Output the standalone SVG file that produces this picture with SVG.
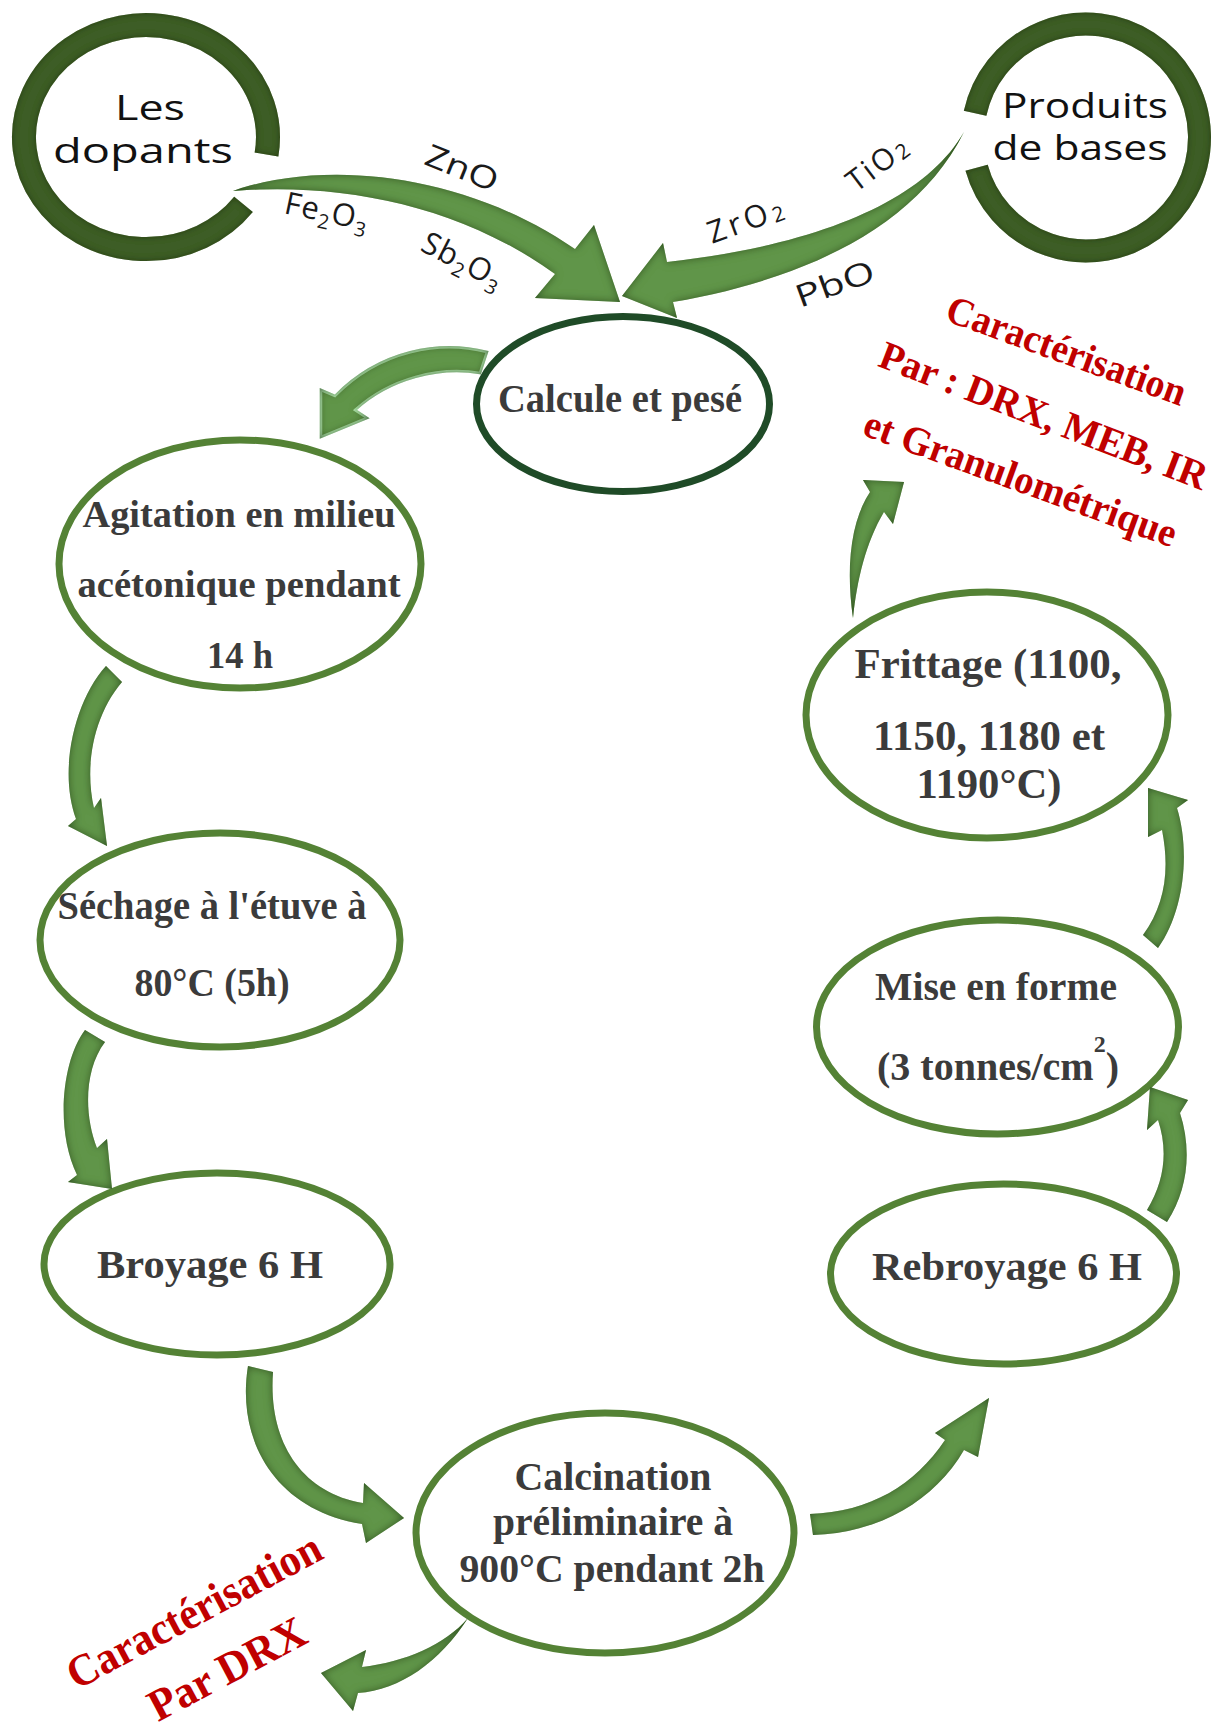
<svg xmlns="http://www.w3.org/2000/svg" width="1222" height="1729" viewBox="0 0 1222 1729">
<defs>
<style>
.ell{fill:#ffffff;stroke:#548235;stroke-width:7}
.ell-dark{fill:#ffffff;stroke:#1f4b27;stroke-width:7}
.ring{fill:none;stroke:#3c5d27;stroke-width:24}
.ring-t{font-family:"Open Sans","Noto Sans",sans-serif;fill:#111111;text-anchor:middle;font-size:34px}
.nt{font-family:"Liberation Serif","Times New Roman",serif;font-weight:bold;fill:#3b3b3b;text-anchor:middle}
.lbl{font-family:"Open Sans","Noto Sans",sans-serif;fill:#1a1a1a}
.arr{fill:#609548}
.arr-c{fill:#609548;stroke:#a6dba0;stroke-width:2.5}
.red{font-family:"Liberation Serif","Times New Roman",serif;font-weight:bold;fill:#c00000;text-anchor:middle}
</style>
<filter id="bevel" x="-10%" y="-10%" width="120%" height="120%">
<feGaussianBlur in="SourceAlpha" stdDeviation="4" result="blur"/>
<feComposite in="SourceAlpha" in2="blur" operator="out" result="rim"/>
<feFlood flood-color="#1d3a10" flood-opacity="0.9"/>
<feComposite in2="rim" operator="in" result="shade"/>
<feMerge><feMergeNode in="SourceGraphic"/><feMergeNode in="shade"/></feMerge>
</filter>
<filter id="ringbevel" x="-10%" y="-10%" width="120%" height="120%">
<feGaussianBlur in="SourceAlpha" stdDeviation="3" result="blur"/>
<feComposite in="SourceAlpha" in2="blur" operator="out" result="rim"/>
<feFlood flood-color="#15260b" flood-opacity="0.8"/>
<feComposite in2="rim" operator="in" result="shade"/>
<feMerge><feMergeNode in="SourceGraphic"/><feMergeNode in="shade"/></feMerge>
</filter>
</defs>
<rect width="1222" height="1729" fill="#ffffff"/>

<g id="node-dopants">
<path class="ring" filter="url(#ringbevel)" d="M 243.5,204.4 A 122 112 0 1 1 266.5,154.5"/>
<text class="ring-t" x="150" y="120" textLength="70" lengthAdjust="spacingAndGlyphs">Les</text>
<text class="ring-t" x="143" y="163" textLength="180" lengthAdjust="spacingAndGlyphs">dopants</text>
</g>

<g id="node-produits">
<path class="ring" style="stroke-width:23" filter="url(#ringbevel)" d="M 975.1,113.3 A 113.5 113.5 0 1 1 976.6,167.8"/>
<text class="ring-t" x="1085" y="118" textLength="166" lengthAdjust="spacingAndGlyphs">Produits</text>
<text class="ring-t" x="1080" y="160" textLength="175" lengthAdjust="spacingAndGlyphs">de bases</text>
</g>

<g id="node-calcule">
<ellipse class="ell-dark" cx="623" cy="404" rx="146.5" ry="87.5"/>
<text class="nt" x="620" y="412" font-size="39" textLength="244" lengthAdjust="spacingAndGlyphs">Calcule et pesé</text>
</g>

<g id="node-agitation">
<ellipse class="ell" cx="240" cy="564" rx="181" ry="124"/>
<text class="nt" x="239" y="527" font-size="37" textLength="313" lengthAdjust="spacingAndGlyphs">Agitation en milieu</text>
<text class="nt" x="239" y="597" font-size="37" textLength="323" lengthAdjust="spacingAndGlyphs">acétonique pendant</text>
<text class="nt" x="240" y="668" font-size="37" textLength="66" lengthAdjust="spacingAndGlyphs">14 h</text>
</g>

<g id="node-sechage">
<ellipse class="ell" cx="220" cy="940" rx="180" ry="107"/>
<text class="nt" x="212" y="919" font-size="39" textLength="309" lengthAdjust="spacingAndGlyphs">Séchage à l'étuve à</text>
<text class="nt" x="212" y="996" font-size="39" textLength="155" lengthAdjust="spacingAndGlyphs">80°C (5h)</text>
</g>

<g id="node-broyage">
<ellipse class="ell" cx="217" cy="1264" rx="173" ry="91"/>
<text class="nt" x="210" y="1278" font-size="40" textLength="226" lengthAdjust="spacingAndGlyphs">Broyage 6 H</text>
</g>

<g id="node-calcination">
<ellipse class="ell" cx="605" cy="1533" rx="189" ry="120"/>
<text class="nt" x="613" y="1490" font-size="40" textLength="197" lengthAdjust="spacingAndGlyphs">Calcination</text>
<text class="nt" x="613" y="1535" font-size="40" textLength="240" lengthAdjust="spacingAndGlyphs">préliminaire à</text>
<text class="nt" x="612" y="1582" font-size="40" textLength="305" lengthAdjust="spacingAndGlyphs">900°C pendant 2h</text>
</g>

<g id="node-rebroyage">
<ellipse class="ell" cx="1003.5" cy="1274" rx="173" ry="90"/>
<text class="nt" x="1007" y="1280" font-size="41" textLength="270" lengthAdjust="spacingAndGlyphs">Rebroyage 6 H</text>
</g>

<g id="node-mise">
<ellipse class="ell" cx="997.5" cy="1027" rx="181" ry="107"/>
<text class="nt" x="996" y="1000" font-size="40" textLength="242" lengthAdjust="spacingAndGlyphs">Mise en forme</text>
<text class="nt" x="877" y="1080" font-size="40" style="text-anchor:start">(3 tonnes/cm<tspan font-size="24" dy="-28">2</tspan><tspan dy="28">)</tspan></text>
</g>

<g id="node-frittage">
<ellipse class="ell" cx="987" cy="715" rx="181" ry="123"/>
<text class="nt" x="988" y="678" font-size="42" textLength="267" lengthAdjust="spacingAndGlyphs">Frittage (1100,</text>
<text class="nt" x="989" y="750" font-size="42" textLength="232" lengthAdjust="spacingAndGlyphs">1150, 1180 et</text>
<text class="nt" x="989" y="798" font-size="42" textLength="145" lengthAdjust="spacingAndGlyphs">1190°C)</text>
</g>

<g id="node-carac-final">
<text class="red" font-size="40" transform="translate(1062,363) rotate(20)" textLength="252" lengthAdjust="spacingAndGlyphs">Caractérisation</text>
<text class="red" font-size="40" transform="translate(1039,428) rotate(21)" textLength="348" lengthAdjust="spacingAndGlyphs">Par : DRX, MEB, IR</text>
<text class="red" font-size="40" transform="translate(1016,491) rotate(20)" textLength="330" lengthAdjust="spacingAndGlyphs">et Granulométrique</text>
</g>

<g id="node-carac-drx">
<text class="red" font-size="45" transform="translate(201,1624) rotate(-28)" textLength="282" lengthAdjust="spacingAndGlyphs">Caractérisation</text>
<text class="red" font-size="45" transform="translate(234,1682) rotate(-28)" textLength="172" lengthAdjust="spacingAndGlyphs">Par DRX</text>
</g>

<g id="connectors">
<path id="c-dopants-calcule" class="arr" filter="url(#bevel)" d="M 233,191 C 320,160 460,170 575,249 L 594,225 L 620,302 L 535,298 L 555,274 C 460,205 340,182 233,191 Z"/>
<path id="c-produits-calcule" class="arr" filter="url(#bevel)" d="M 964,132 C 925,200 820,245 667,262 L 663,243 L 622,296 L 677,318 L 673,302 C 800,280 915,230 964,132 Z"/>
<path id="c-calcule-agitation" class="arr-c" filter="url(#bevel)" d="M 487,352 C 440,340 380,350 335,396 L 321,390 L 321,437 L 367,418 L 355,410 C 390,378 440,366 480,373 Z"/>
<path id="c-agitation-sechage" class="arr" filter="url(#bevel)" d="M 106,666 C 75,700 58,770 76,819 L 68,826 L 107,846 L 101,798 L 94,808 C 84,765 94,715 122,682 Z"/>
<path id="c-sechage-broyage" class="arr" filter="url(#bevel)" d="M 85,1030 C 62,1060 55,1130 77,1175 L 68,1182 L 112,1189 L 107,1139 L 97,1148 C 84,1115 84,1070 105,1042 Z"/>
<path id="c-broyage-calcination" class="arr" filter="url(#bevel)" d="M 248,1366 C 236,1440 275,1510 362,1524 L 366,1543 L 404,1518 L 364,1483 L 363,1503 C 300,1492 268,1440 273,1372 Z"/>
<path id="c-calcination-drx" class="arr" filter="url(#bevel)" d="M 468,1618 C 440,1662 400,1690 358,1693 L 353,1711 L 321,1673 L 366,1650 L 362,1667 C 405,1662 445,1645 468,1618 Z"/>
<path id="c-calcination-rebroyage" class="arr" filter="url(#bevel)" d="M 810,1514 C 870,1512 915,1485 945,1440 L 935,1433 L 989,1398 L 978,1457 L 964,1450 C 935,1500 880,1533 813,1535 Z"/>
<path id="c-rebroyage-mise" class="arr" filter="url(#bevel)" d="M 1147,1210 C 1165,1180 1168,1150 1158,1120 L 1147,1130 L 1150,1087 L 1188,1100 L 1180,1113 C 1192,1150 1188,1190 1167,1222 Z"/>
<path id="c-mise-frittage" class="arr" filter="url(#bevel)" d="M 1143,935 C 1165,905 1170,870 1162,830 L 1148,837 L 1148,788 L 1188,800 L 1177,808 C 1190,850 1185,910 1158,948 Z"/>
<path id="c-frittage-carac" class="arr" filter="url(#bevel)" d="M 853,618 C 846,570 850,522 870,492 L 863,480 L 904,482 L 893,524 L 884,512 C 866,542 857,580 853,618 Z"/>

<text class="lbl" font-size="31" text-anchor="middle" transform="translate(458,178) rotate(22)" textLength="76" lengthAdjust="spacingAndGlyphs">ZnO</text>
<text class="lbl" font-size="31" letter-spacing="1" transform="translate(283,213) rotate(12)">Fe<tspan font-size="20" dy="7">2</tspan><tspan dy="-7">O</tspan><tspan font-size="20" dy="7">3</tspan></text>
<text class="lbl" font-size="31" letter-spacing="1" transform="translate(419,250) rotate(27)">Sb<tspan font-size="20" dy="7">2</tspan><tspan dy="-7">O</tspan><tspan font-size="20" dy="7">3</tspan></text>
<text class="lbl" font-size="30" letter-spacing="3" transform="translate(856,193) rotate(-37)">TiO<tspan font-size="21" dy="2">2</tspan></text>
<text class="lbl" font-size="31" letter-spacing="4" transform="translate(712,244) rotate(-20)">ZrO<tspan font-size="21" dy="2">2</tspan></text>
<text class="lbl" font-size="31" text-anchor="start" transform="translate(800,308) rotate(-20)" textLength="82" lengthAdjust="spacingAndGlyphs">PbO</text>
</g>
</svg>
